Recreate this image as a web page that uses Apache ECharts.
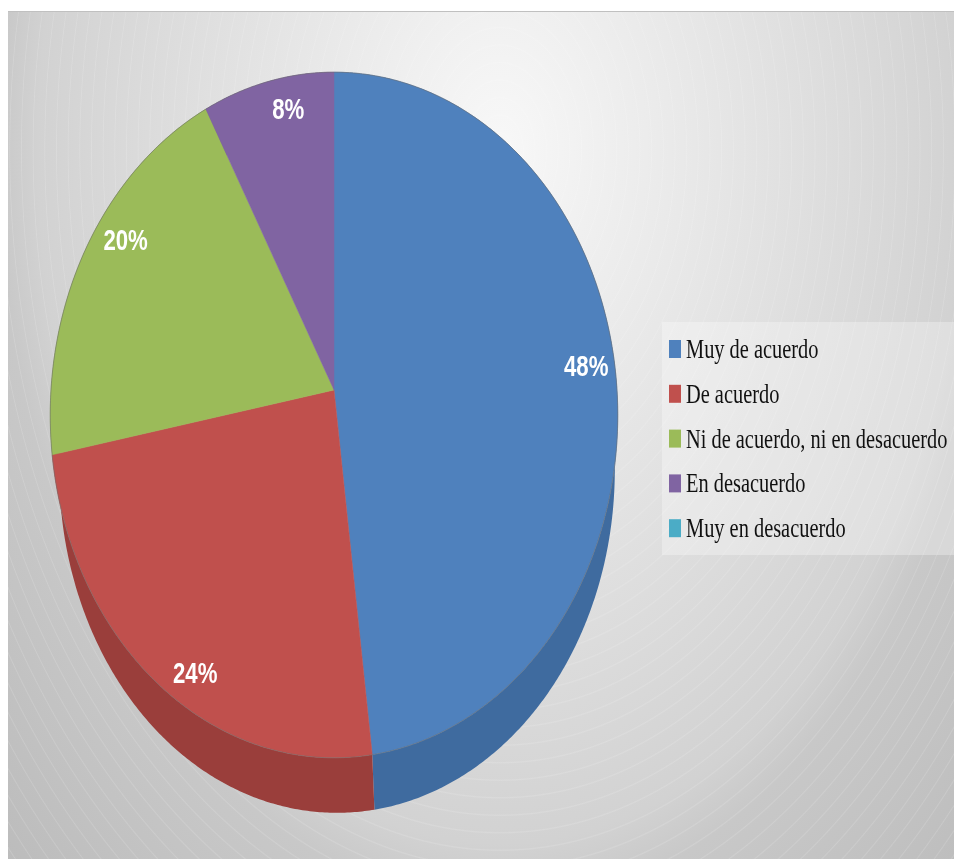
<!DOCTYPE html>
<html>
<head>
<meta charset="utf-8">
<style>html,body{margin:0;padding:0;background:#fff}#chart{width:954px;height:859px}</style>
<script src="https://cdn.jsdelivr.net/npm/echarts@6/dist/echarts.min.js"></script>
</head>
<body>
<div id="chart"></div>
<script>
const categories = ['Muy de acuerdo', 'De acuerdo', 'Ni de acuerdo, ni en desacuerdo', 'En desacuerdo', 'Muy en desacuerdo'];
const values = [48, 24, 20, 8, 0];
const percentLabels = ['48%', '24%', '20%', '8%', ''];
const topColors = ['#4f81bd', '#c0504d', '#9bbb59', '#8064a2', '#4bacc6'];
const wallColors = ['#3f6b9f', '#9a3e3b', '#7d9847', '#66508a', '#3c8aa0'];

// projection of the tilted pie onto the page
const CX = 334, CY = 390, RX = 283, RY = 341, K = -0.0729, DEPTH = 55, WALL_SHRINK = 0.979, WALL_SHIFT = 3;
function project(theta) {
  const u = Math.sin(theta), v = -Math.cos(theta), d = 1 + K * v;
  return [CX + RX * u / d, CY + RY * v / d];
}
function arc(a0, a1) {
  const pts = [], n = Math.max(2, Math.ceil((a1 - a0) * 120));
  for (let i = 0; i <= n; i++) pts.push(project(a0 + (a1 - a0) * i / n));
  return pts;
}
const lower = p => [CX + WALL_SHIFT + (p[0] - CX) * WALL_SHRINK, p[1] + DEPTH];
const total = values.reduce((a, b) => a + b, 0);
const labelOffsets = [[-29, -1], [38, -8], [40, -7], [20, 29], [0, 0]];

function makeSeries(name, idx) {
  const start = values.slice(0, idx).reduce((a, b) => a + b, 0) / total * 2 * Math.PI;
  return {
    type: 'custom',
    name: name,
    coordinateSystem: 'none',
    silent: true,
    itemStyle: { color: topColors[idx] },
    data: [[values[idx]]],
    renderItem: function (params, api) {
      const sweep = api.value(0) / total * 2 * Math.PI;
      if (!sweep) return { type: 'group', children: [] };
      const rim = arc(start, start + sweep);
      const mid = project(start + sweep / 2);
      const off = labelOffsets[idx];
      return {
        type: 'group',
        children: [
          { type: 'polygon', z2: 1, shape: { points: rim.concat(rim.map(lower).reverse()) },
            style: { fill: wallColors[idx] } },
          { type: 'polygon', z2: 5, shape: { points: [[CX, CY]].concat(rim) },
            style: { fill: topColors[idx], stroke: topColors[idx], lineWidth: 0.5 } },
          { type: 'polyline', z2: 6, shape: { points: rim },
            style: { fill: null, stroke: 'rgba(110,110,110,0.55)', lineWidth: 1 } },
          { type: 'text', z2: 10, x: mid[0] + off[0], y: mid[1] + off[1], scaleX: 0.74,
            style: { text: percentLabels[idx], fill: '#fff', align: 'center', verticalAlign: 'middle',
              font: 'bold 30px "Liberation Sans"' } }
        ]
      };
    }
  };
}

const BG = { x: 8, y: 12, w: 946, h: 847, sy: 1.5 };
const rings = [];
for (let i = 1; i < 60; i++) {
  const p = i / 60;
  rings.push({ offset: p - 0.0012, color: 'rgba(255,255,255,0)' },
             { offset: p, color: 'rgba(255,255,255,0.14)' },
             { offset: p + 0.0012, color: 'rgba(255,255,255,0)' });
}
const bgGrad = {
  type: 'radial', x: 0.52, y: 0.163, r: 1.24,
  colorStops: [
    { offset: 0, color: '#f8f8f8' },
    { offset: 0.66, color: '#d2d2d2' },
    { offset: 0.72, color: '#c8c8c8' },
    { offset: 1, color: '#bbbbbb' }
  ]
};
const ringGrad = { type: 'radial', x: 0.52, y: 0.163, r: 1.24, colorStops: rings };

const legendTop = 340, legendStep = 44.8;
const graphic = [
  { type: 'rect', z: -10, x: BG.x, y: BG.y, scaleY: BG.sy, shape: { x: 0, y: 0, width: BG.w, height: BG.h / BG.sy }, style: { fill: bgGrad }, silent: true },
  { type: 'rect', z: -9, x: BG.x, y: BG.y, scaleY: BG.sy, shape: { x: 0, y: 0, width: BG.w, height: BG.h / BG.sy }, style: { fill: ringGrad }, silent: true },
  { type: 'line', z: -8, shape: { x1: BG.x, y1: 11.5, x2: 954, y2: 11.5 }, style: { stroke: '#c0c0c0', lineWidth: 1 }, silent: true },
  { type: 'rect', z: -7, shape: { x: 662, y: 322, width: 292, height: 233 }, style: { fill: 'rgba(255,255,255,0.3)' }, silent: true }
].concat(categories.map((c, i) => ({
  type: 'text', z: 20, x: 686, y: legendTop + 11 + i * legendStep, scaleX: 0.755,
  style: { text: c, fill: '#111111', verticalAlign: 'middle', font: '27px "Liberation Serif"' }, silent: true
})));

const chart = echarts.init(document.getElementById('chart'), null, { renderer: 'canvas' });
chart.setOption({
  animation: false,
  backgroundColor: '#ffffff',
  legend: {
    data: categories, orient: 'vertical', left: 669, top: legendTop, icon: 'rect',
    itemWidth: 12, itemHeight: 18, itemGap: legendStep - 18, selectedMode: false,
    formatter: () => '', padding: 0, textStyle: { fontSize: 1 }
  },
  graphic: { elements: graphic },
  series: categories.map(makeSeries)
});
</script>
</body>
</html>
